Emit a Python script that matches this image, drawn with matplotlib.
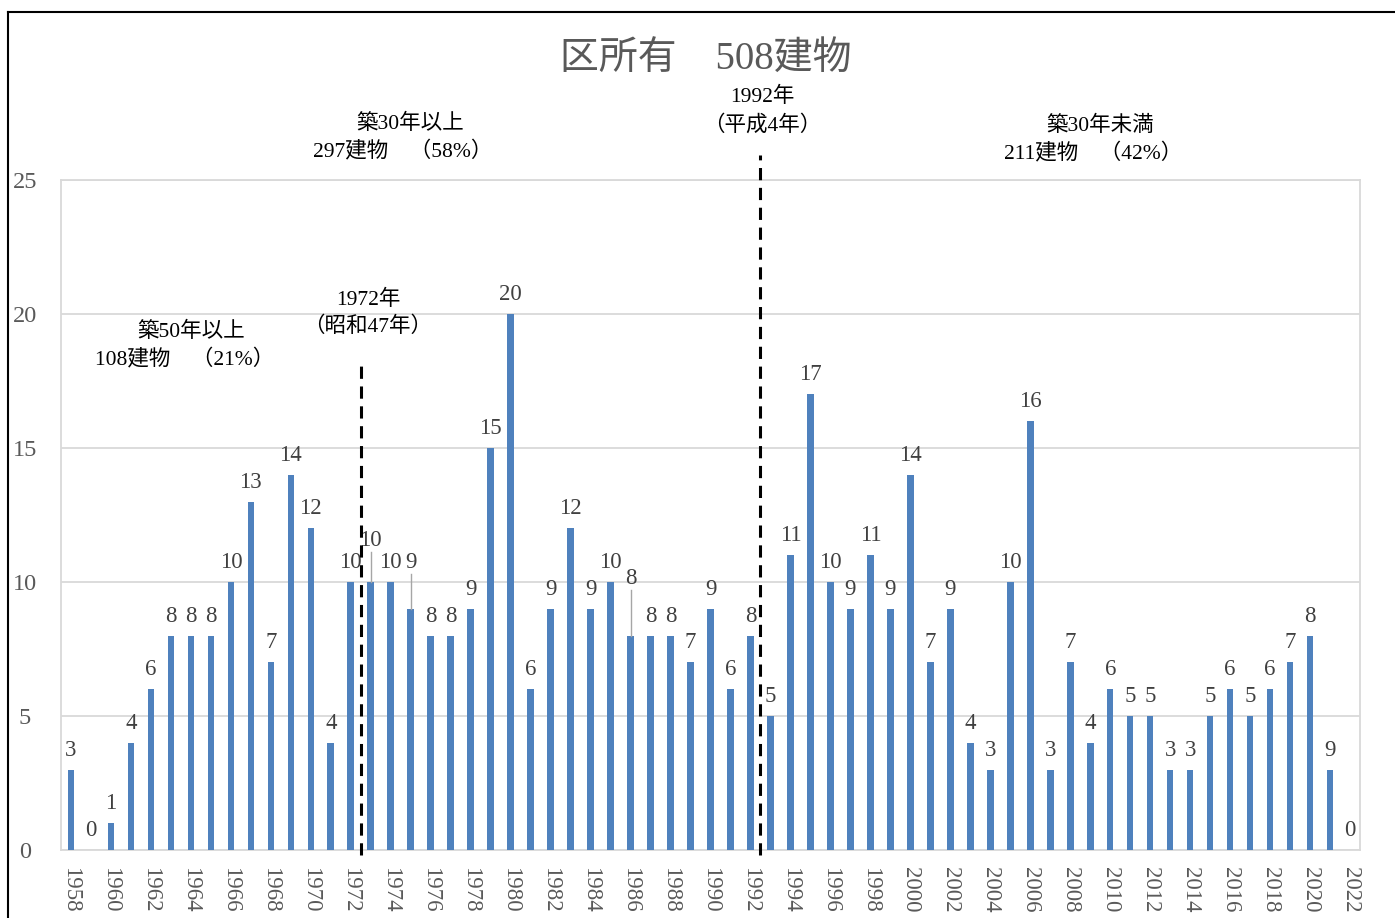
import matplotlib
matplotlib.use("Agg")
import matplotlib.pyplot as plt
from matplotlib.lines import Line2D

plt.rcParams['font.family'] = ['Liberation Serif', 'Noto Sans CJK JP', 'DejaVu Sans']

# ---- data ----
years = list(range(1958, 2023))
counts = [3, 0, 1, 4, 6, 8, 8, 8, 10, 13,
          7, 14, 12, 4, 10, 10, 10, 9, 8, 8,
          9, 15, 20, 6, 9, 12, 9, 10, 8, 8,
          8, 7, 9, 6, 8, 5, 11, 17, 10, 9,
          11, 9, 14, 7, 9, 4, 3, 10, 16, 3,
          7, 4, 6, 5, 5, 3, 3, 5, 6, 5,
          6, 7, 8, 3, 0]
labels = [str(v) for v in counts]
labels[years.index(2021)] = "9"   # label as shown in the original chart
title = "区所有　508建物"
yticks = [0, 5, 10, 15, 20, 25]

# ---- figure ----
W, H = 1395, 918
fig = plt.figure(figsize=(W / 100, H / 100), dpi=100)
def fx(px): return px / W
def fy(py): return 1 - py / H

ax = fig.add_axes([fx(61), fy(850), (1360 - 61) / W, (850 - 180) / H])
x = list(range(len(years)))
ax.bar(x, counts, width=0.33, color='#4F81BD', zorder=3)
ax.set_xlim(-0.5, len(years) - 0.5)
ax.set_ylim(0, 25)
ax.set_yticks(yticks)
ax.set_yticklabels([str(t) for t in yticks], fontsize=17.5, color='#595959')
for lab in ax.get_yticklabels():
    lab.set_horizontalalignment('center')
ax.tick_params(axis='y', length=0, pad=26)
ev = [i for i, y in enumerate(years) if y % 2 == 0]
ax.set_xticks(ev)
ax.set_xticklabels([str(years[i]) for i in ev], rotation=270, fontsize=16.5,
                   color='#595959', va='top', ha='center')
ax.tick_params(axis='x', length=0, pad=12)
ax.grid(axis='y', color='#D9D9D9', linewidth=1.3, zorder=0)
for s in ax.spines.values():
    s.set_color('#D9D9D9')
    s.set_linewidth(1.3)

# data labels (special offsets in px: dx, dy raise, leader line)
special = {1973: (0, 22, True), 1974: (0, 0, False), 1975: (0, 27, True), 1986: (0, 38, True)}
ppu = 670 / 25.0
for i, (yr, v, lab) in enumerate(zip(years, counts, labels)):
    dx, dy, leader = special.get(yr, (0, 0, False))
    ax.annotate(lab, (i, v), xytext=(dx * 0.72, (9 + dy) * 0.72), textcoords='offset points',
                ha='center', va='bottom', fontsize=16.5, color='#404040', zorder=5)
    if leader:
        ax.plot([i, i], [v, v + (dy + 8) / ppu], color='#A6A6A6', lw=1.0, zorder=4)

# dashed separators
ax.plot([14.5, 14.5], [-0.2, (850 - 365) / ppu], color='black', lw=2.2,
        dashes=(4, 2.5), clip_on=False, zorder=6)
ax.plot([34.5, 34.5], [-0.2, (850 - 155) / ppu], color='black', lw=2.2,
        dashes=(4, 2.5), clip_on=False, zorder=6)

# title and annotations
fig.text(fx(706), fy(60), title, ha='center', va='center', fontsize=28, color='#595959')
notes = [
    (410, 124, "築30年以上"), (403, 152, "297建物　（58%）"),
    (762, 97, "1992年"), (762, 125, "（平成4年）"),
    (1100, 126, "築30年未満"), (1093, 154, "211建物　（42%）"),
    (368, 300, "1972年"), (368, 327, "（昭和47年）"),
    (191, 332, "築50年以上"), (185, 360, "108建物　（21%）"),
]
for px, py, t in notes:
    fig.text(fx(px), fy(py), t, ha='center', va='center', fontsize=15.5, color='black')

# outer frame (left and top edges)
fig.add_artist(Line2D([fx(8), fx(8)], [fy(12), 0], color='black', lw=1.5))
fig.add_artist(Line2D([fx(8), 1], [fy(12), fy(12)], color='black', lw=1.5))

fig.savefig("out.png", dpi=100)
